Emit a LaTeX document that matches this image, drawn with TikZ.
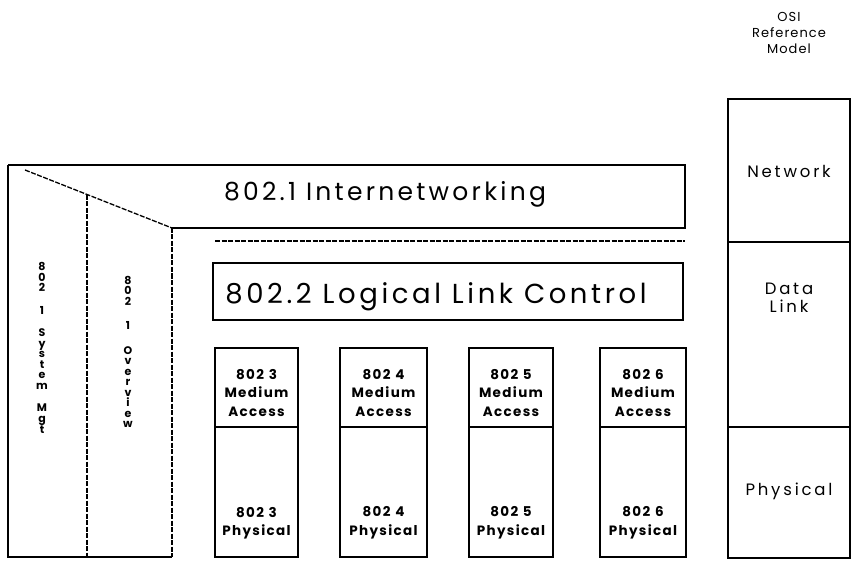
\documentclass[tikz,border=0pt]{standalone}
\usepackage{fontspec}
\setmainfont{Poppins}
\begin{document}
\begin{tikzpicture}[x=1pt,y=-1pt,
  frameline/.style={line width=1.6pt, line join=miter},
  dashline/.style={line width=1.3pt, dash pattern=on 5pt off 1.5pt},
  box/.style={draw, line width=1.6pt, inner sep=0pt},
  bigtxt/.style={font=\fontsize{25}{28}\selectfont\addfontfeature{LetterSpace=13}, inner sep=0pt},
  llctxt/.style={font=\fontsize{27.5}{32}\selectfont\addfontfeature{LetterSpace=13}, inner sep=0pt},
  smalltxt/.style={font=\fontsize{13.5}{18.5}\selectfont\bfseries\addfontfeature{LetterSpace=10}, align=center, inner sep=0pt},
  ositxt/.style={font=\fontsize{16.5}{18}\selectfont\addfontfeature{LetterSpace=17}, align=center, inner sep=0pt},
  headtxt/.style={font=\fontsize{13}{16}\selectfont\addfontfeature{LetterSpace=8}, align=center, inner sep=0pt},
  vtxt/.style={font=\fontsize{11}{10.5}\selectfont\bfseries, align=center, inner sep=0pt}]
\useasboundingbox (0,0) rectangle (865,572);

% 802.1 frame (internetworking + management columns)
\draw[frameline] (8,165) -- (685,165) -- (685,228) -- (172,228);
\draw[frameline] (8,165) -- (8,557) -- (172,557);
\draw[dashline] (172,228) -- (172,557);
\draw[dashline] (87,195) -- (87,557);
\draw[dashline] (25,170) -- (172,228);
\node[bigtxt] (inet) at (385,194) {802.1 Internetworking};

% vertical column labels
\node[vtxt] (sysmgt) at (42,348) {8\\0\\2\\[12pt]1\\[12pt]S\\y\\s\\t\\e\\m\\[12pt]M\\g\\t};
\node[vtxt] (overview) at (128,352) {8\\0\\2\\[14pt]1\\[14pt]O\\v\\e\\r\\v\\i\\e\\w};

% separator line
\coordinate (sepL) at (215,241);
\coordinate (sepR) at (685,241);
\draw[dashline] (sepL) -- (sepR);

% LLC
\node[box, minimum width=470pt, minimum height=57pt] (llc) at (448,291.5) {};
\node[llctxt] (llct) at (436,297) {802.2 Logical Link Control};

% MAC / PHY columns
\foreach \n/\cx/\w in {3/256.5/83, 4/383.5/87, 5/511/84, 6/643/86}{
  \node[box, minimum width=\w pt, minimum height=209pt] (mac\n) at (\cx,452.5) {};
  \draw[line width=1.4pt] (mac\n.west |- 0,427) -- (mac\n.east |- 0,427);
  \node[smalltxt] (mac\n t) at (\cx,393) {802\hspace{0.35em}\n\\Medium\\Access};
  \node[smalltxt] (phy\n t) at (\cx,523) {802\hspace{0.35em}\n\\Physical};
}

% OSI reference model
\node[headtxt] (osihead) at (789,33) {OSI\\Reference\\Model};
\node[box, minimum width=122pt, minimum height=459pt] (osi) at (789,328.5) {};
\draw[line width=1.4pt] (osi.west |- 0,242) -- (osi.east |- 0,242);
\draw[line width=1.4pt] (osi.west |- 0,427) -- (osi.east |- 0,427);
\node[ositxt] (net) at (789,171) {Network};
\node[ositxt] (dl) at (789,298) {Data\\Link};
\node[ositxt] (phys) at (789,491) {Physical};
\end{tikzpicture}
\end{document}
